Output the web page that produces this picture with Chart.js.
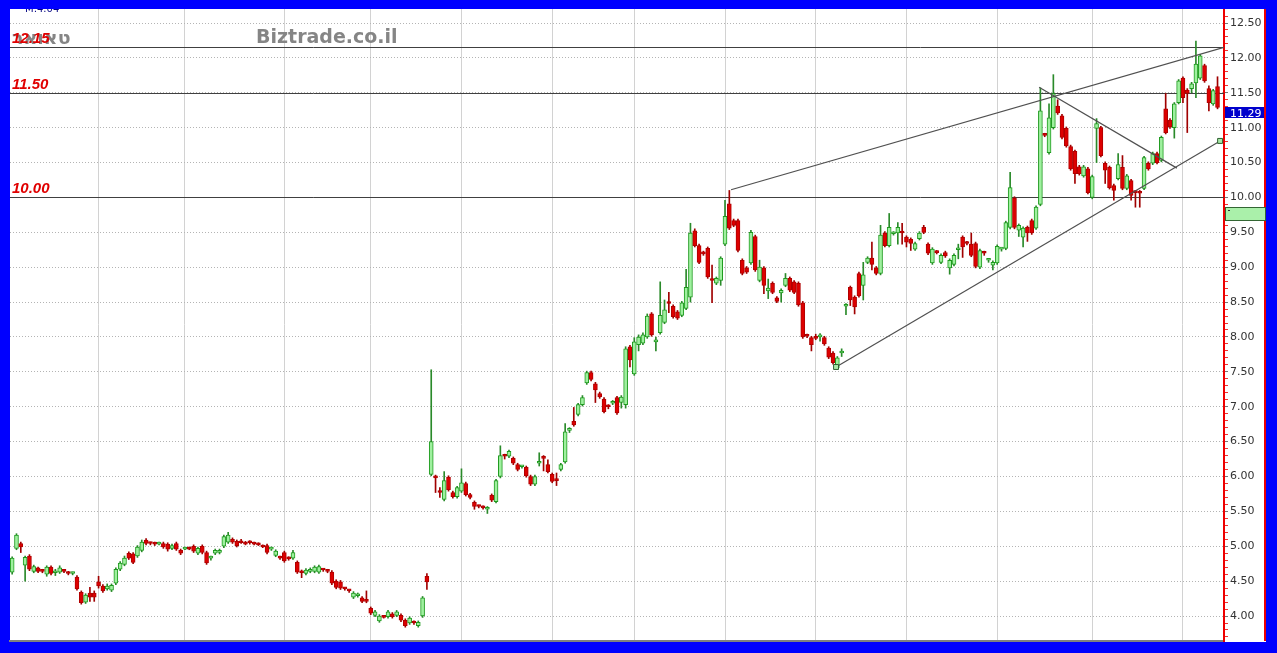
<!DOCTYPE html>
<html><head><meta charset="utf-8">
<script src="https://cdn.jsdelivr.net/npm/chart.js@4.4.1/dist/chart.umd.min.js"></script>
<style>html,body{margin:0;padding:0;background:#0000ff;overflow:hidden}canvas{display:block}</style>
</head><body>
<canvas id="c" width="1277" height="653"></canvas>
<script>
// ---- data (daily candles, oldest -> newest) ----
const openP=[4.63,4.97,5.04,4.73,4.86,4.64,4.69,4.65,4.60,4.70,4.62,4.63,4.65,4.62,4.61,4.56,4.34,4.20,4.33,4.33,
4.49,4.43,4.39,4.37,4.47,4.67,4.74,4.90,4.89,4.86,4.94,5.09,5.05,5.04,5.03,5.04,5.03,4.97,5.04,4.94,
4.96,4.97,5.00,4.90,5.00,4.91,4.83,4.90,4.91,5.00,5.06,5.10,5.07,5.06,5.04,5.06,5.04,5.03,5.00,5.01,
4.96,4.87,4.84,4.91,4.83,4.83,4.77,4.63,4.61,4.64,4.64,4.63,4.67,4.65,4.63,4.50,4.49,4.40,4.37,4.27,
4.29,4.26,4.22,4.11,4.01,3.93,3.99,3.99,4.03,4.01,4.01,3.94,3.90,3.91,3.86,4.00,4.57,6.03,6.00,5.78,
5.67,5.99,5.77,5.71,5.79,5.90,5.74,5.63,5.58,5.56,5.53,5.73,5.64,6.00,6.30,6.29,6.26,6.17,6.14,6.13,
6.00,5.89,6.19,6.27,6.17,6.03,5.95,6.10,6.21,6.66,6.79,6.89,7.03,7.34,7.49,7.33,7.19,7.11,7.01,7.05,
7.13,7.06,7.03,7.86,7.47,7.89,7.91,8.00,8.33,7.93,8.06,8.21,8.50,8.44,8.36,8.31,8.41,8.57,9.52,9.31,
9.21,9.27,8.82,8.77,8.81,9.33,9.91,9.67,9.67,9.10,8.99,9.06,9.44,8.81,8.99,8.66,8.77,8.56,8.63,8.74,
8.84,8.79,8.77,8.49,8.02,7.99,7.99,8.00,7.99,7.84,7.77,7.56,7.77,8.44,8.71,8.57,8.91,8.74,9.07,9.13,
8.99,8.91,9.49,9.31,9.48,9.49,9.50,9.43,9.40,9.26,9.41,9.57,9.33,9.06,9.22,9.07,9.21,8.99,9.04,9.25,
9.43,9.35,9.33,9.34,9.00,9.21,9.10,9.03,9.06,9.26,9.27,9.57,9.99,9.53,9.43,9.57,9.67,9.56,9.90,10.90,
10.64,11.00,11.31,11.17,10.99,10.73,10.66,10.44,10.31,10.41,10.00,10.99,11.00,10.49,10.43,10.17,10.27,10.43,10.13,10.24,
10.08,10.08,10.13,10.49,10.49,10.63,10.53,11.27,11.11,11.00,11.36,11.71,11.54,11.56,11.64,11.71,11.89,11.56,11.34,11.59];
const highP=[4.85,5.18,5.06,4.86,4.88,4.73,4.70,4.67,4.72,4.72,4.67,4.72,4.67,4.64,4.63,4.58,4.36,4.32,4.41,4.36,
4.57,4.45,4.46,4.46,4.69,4.78,4.86,4.92,4.91,5.01,5.09,5.11,5.06,5.06,5.06,5.06,5.05,5.03,5.06,4.96,
4.99,4.99,5.02,4.99,5.02,4.93,4.86,4.96,4.96,5.16,5.20,5.12,5.09,5.10,5.07,5.08,5.06,5.05,5.02,5.03,
4.99,4.95,4.86,4.93,4.85,4.94,4.79,4.66,4.68,4.69,4.72,4.73,4.68,4.67,4.65,4.52,4.51,4.41,4.38,4.35,
4.33,4.28,4.36,4.13,4.08,4.02,4.01,4.08,4.05,4.08,4.03,3.96,3.99,3.93,3.93,4.28,4.61,7.53,6.02,5.84,
6.07,6.01,5.79,5.86,6.11,5.92,5.76,5.65,5.59,5.58,5.57,5.75,5.96,6.44,6.32,6.38,6.28,6.19,6.16,6.15,
6.02,6.02,6.34,6.30,6.24,6.05,6.05,6.19,6.76,6.70,6.99,7.05,7.16,7.51,7.51,7.35,7.21,7.13,7.03,7.09,
7.15,7.16,7.86,7.88,7.99,8.03,8.06,8.33,8.35,8.00,8.79,8.53,8.64,8.46,8.38,8.51,8.97,9.63,9.55,9.33,
9.23,9.29,9.03,8.86,9.15,9.96,10.10,9.69,9.69,9.12,9.01,9.53,9.46,9.10,9.01,8.83,8.79,8.58,8.69,8.91,
8.86,8.81,8.79,8.51,8.04,8.01,8.04,8.05,8.01,7.86,7.79,7.72,7.83,8.48,8.73,8.59,8.93,9.07,9.15,9.36,
9.01,9.60,9.51,9.77,9.51,9.64,9.63,9.45,9.42,9.36,9.51,9.60,9.35,9.28,9.24,9.19,9.23,9.12,9.19,9.33,
9.45,9.37,9.49,9.36,9.26,9.23,9.12,9.09,9.32,9.28,9.66,10.36,10.01,9.62,9.58,9.59,9.69,9.88,11.57,10.92,
11.34,11.76,11.40,11.19,11.01,10.75,10.68,10.46,10.46,10.43,10.32,11.13,11.02,10.51,10.45,10.19,10.63,10.60,10.33,10.26,
10.10,10.10,10.59,10.51,10.65,10.65,10.88,11.49,11.13,11.36,11.69,11.73,11.56,11.65,12.24,12.05,11.91,11.60,11.55,11.73];
const lowP=[4.60,4.95,4.91,4.50,4.65,4.62,4.62,4.62,4.57,4.59,4.58,4.61,4.62,4.59,4.59,4.37,4.17,4.18,4.21,4.21,
4.40,4.34,4.37,4.35,4.45,4.65,4.72,4.81,4.75,4.84,4.92,5.02,5.02,5.01,5.02,4.97,4.93,4.95,4.94,4.88,
4.95,4.95,4.91,4.88,4.89,4.74,4.80,4.88,4.89,4.98,5.04,5.04,4.99,5.04,5.02,5.03,5.02,5.01,4.98,4.89,
4.94,4.85,4.81,4.77,4.80,4.81,4.61,4.55,4.59,4.62,4.62,4.61,4.64,4.62,4.45,4.39,4.38,4.37,4.34,4.25,
4.27,4.19,4.19,4.02,3.99,3.91,3.97,3.97,3.97,3.99,3.92,3.84,3.88,3.88,3.84,3.98,4.38,6.01,5.77,5.70,
5.65,5.79,5.69,5.69,5.77,5.72,5.68,5.53,5.55,5.53,5.47,5.64,5.62,5.98,6.25,6.27,6.17,6.08,6.12,5.99,
5.87,5.87,6.15,6.08,6.05,5.91,5.87,6.08,6.19,6.63,6.72,6.87,7.01,7.32,7.37,7.06,7.12,6.91,6.97,7.03,
6.89,6.98,6.98,7.57,7.45,7.80,7.89,7.98,8.01,7.80,8.04,8.19,8.35,8.27,8.25,8.29,8.39,8.50,9.29,9.05,
9.17,8.84,8.49,8.75,8.74,9.31,9.54,9.58,9.22,8.89,8.91,9.04,8.94,8.79,8.62,8.55,8.62,8.49,8.50,8.72,
8.65,8.62,8.44,7.98,7.99,7.80,7.96,7.94,7.88,7.69,7.61,7.54,7.72,8.32,8.45,8.33,8.57,8.53,9.05,8.96,
8.89,8.89,9.29,9.29,9.46,9.33,9.33,9.29,9.24,9.24,9.39,9.48,9.18,9.04,9.19,9.05,9.14,8.90,9.02,9.12,
9.14,9.32,9.15,8.99,8.98,9.17,9.07,8.96,9.04,9.23,9.25,9.55,9.55,9.44,9.29,9.37,9.47,9.54,9.88,10.87,
10.62,10.98,11.19,10.84,10.72,10.39,10.20,10.32,10.29,10.05,9.98,10.50,10.58,10.20,10.12,9.96,10.25,10.11,10.11,9.96,
9.86,9.86,10.11,10.39,10.47,10.48,10.51,10.91,10.99,10.85,11.34,11.36,10.93,11.50,11.43,11.69,11.65,11.24,11.32,11.27];
const closeP=[4.83,5.16,4.99,4.84,4.67,4.71,4.64,4.64,4.70,4.61,4.63,4.69,4.64,4.61,4.62,4.39,4.19,4.30,4.27,4.27,
4.43,4.36,4.43,4.44,4.67,4.76,4.83,4.83,4.77,4.99,5.06,5.04,5.04,5.03,5.04,4.99,4.96,5.01,4.96,4.90,
4.97,4.96,4.93,4.97,4.91,4.76,4.84,4.94,4.94,5.14,5.16,5.06,5.01,5.05,5.03,5.05,5.03,5.02,4.99,4.91,
4.97,4.93,4.83,4.79,4.82,4.91,4.63,4.62,4.66,4.67,4.70,4.71,4.66,4.64,4.47,4.41,4.40,4.39,4.36,4.33,
4.31,4.21,4.21,4.04,4.06,4.00,3.98,4.06,3.99,4.06,3.94,3.86,3.97,3.90,3.91,4.26,4.49,6.50,5.98,5.77,
5.94,5.81,5.71,5.84,5.91,5.74,5.70,5.57,5.57,5.55,5.54,5.66,5.94,6.30,6.29,6.36,6.19,6.10,6.15,6.01,
5.89,6.00,6.20,6.26,6.07,5.93,5.94,6.17,6.64,6.68,6.74,7.03,7.13,7.49,7.39,7.24,7.14,6.93,7.00,7.06,
6.91,7.14,7.83,7.67,7.93,8.00,8.03,8.30,8.03,7.94,8.31,8.39,8.48,8.29,8.27,8.49,8.71,9.49,9.31,9.07,
9.19,8.86,8.81,8.84,9.13,9.73,9.56,9.60,9.24,8.91,8.93,9.50,8.96,9.00,8.74,8.70,8.64,8.51,8.67,8.84,
8.67,8.64,8.46,8.00,8.01,7.89,7.98,8.03,7.90,7.71,7.63,7.70,7.79,8.46,8.53,8.43,8.59,8.89,9.13,9.04,
8.91,9.46,9.31,9.57,9.49,9.57,9.49,9.36,9.34,9.34,9.49,9.50,9.20,9.26,9.21,9.17,9.16,9.10,9.17,9.26,
9.29,9.34,9.17,9.01,9.24,9.20,9.11,9.07,9.30,9.27,9.64,10.14,9.57,9.60,9.56,9.49,9.49,9.86,11.24,10.89,
11.14,11.49,11.21,10.86,10.74,10.41,10.34,10.34,10.44,10.07,10.30,11.06,10.60,10.39,10.14,10.10,10.47,10.13,10.31,10.03,
10.07,10.06,10.57,10.41,10.63,10.50,10.86,10.93,11.01,11.34,11.67,11.43,11.49,11.63,11.91,12.03,11.67,11.36,11.53,11.29];

const monthStarts=[20,40,63,83,104,125,144,165,186,207,228,250,271]; // candle index of vertical grid lines
const levelValues=[12.15,11.50,10.00];
const levelLabels=['12.15','11.50','10.00'];
const trendUpper=[{x:166.4,y:10.11},{x:280.5,y:12.15}];
const trendLower=[{x:190.7,y:7.57},{x:279.6,y:10.81}];
const trendFall=[{x:237.7,y:11.58},{x:269.6,y:10.42}];
const anchorPoints=[{x:190.7,y:7.57},{x:279.6,y:10.81}];
const lastPrice=11.29;
const markerLevel=9.86;
const stockName='טאואר';
const siteName='Biztrade.co.il';
const infoText='M:4.04';

// ---- derived ----
const idx=openP.map((_,i)=>i);
const up=idx.map(i=>closeP[i]>=openP[i]);
const wickData=idx.map(i=>({x:i,y:[lowP[i],highP[i]]}));
const bodyData=idx.map(i=>({x:i,y:[openP[i],closeP[i]]}));

const deco={
  id:'deco',
  beforeDraw(chart){
    const c=chart.ctx;c.save();
    c.fillStyle='#0000ff';c.fillRect(0,0,chart.width,chart.height);
    c.fillStyle='#ffffff';c.fillRect(10,9,1256,633);
    c.restore();
  },
  beforeDatasetsDraw(chart){
    const c=chart.ctx,a=chart.chartArea,y=chart.scales.y;
    c.save();
    c.fillStyle='#858585';
    c.font='bold 19px "DejaVu Sans"';c.textBaseline='alphabetic';c.textAlign='left';
    c.fillText(siteName,256,43);
    c.font='bold 19px "DejaVu Sans", "Noto Sans", sans-serif';
    c.fillText(stockName,12,44);
    levelValues.forEach((v,k)=>{
      const py=Math.round(y.getPixelForValue(v))+0.5;
      c.strokeStyle='#404040';c.lineWidth=1;
      c.beginPath();c.moveTo(a.left,py);c.lineTo(a.right,py);c.stroke();
      c.fillStyle='#e00000';c.font='italic bold 15px "Liberation Sans"';
      c.fillText(levelLabels[k],12,py-5);
    });
    c.restore();
  },
  afterDraw(chart){
    const c=chart.ctx,a=chart.chartArea,y=chart.scales.y;
    c.save();
    c.strokeStyle='#ee0000';c.lineWidth=2;
    c.beginPath();c.moveTo(1265,9);c.lineTo(1265,641);c.stroke();
    // last price box
    const pt=Math.round(y.getPixelForValue(lastPrice));
    c.fillStyle='#0000cc';c.fillRect(a.right+1,pt,39,11);
    c.fillStyle='#ffffff';c.font='11px "DejaVu Sans"';c.textBaseline='alphabetic';
    c.fillText(lastPrice.toFixed(2),a.right+6,pt+10);
    // marker box
    const mt=Math.round(y.getPixelForValue(markerLevel));
    c.fillStyle='#aaf0aa';c.fillRect(a.right+1,mt,41,14);
    c.strokeStyle='#336633';c.lineWidth=1;c.strokeRect(a.right+1.5,mt+0.5,40,13);
    c.fillStyle='#333';c.fillRect(a.right+4,mt+3,2,1);
    // info text and top border
    c.fillStyle='#000080';c.font='10px "DejaVu Sans"';
    c.fillText(infoText,25,12);
    c.fillStyle='#0000ff';c.fillRect(0,0,chart.width,9);
    c.restore();
  }
};

new Chart(document.getElementById('c'),{
  type:'bar',
  data:{datasets:[
    {type:'line',data:trendUpper,borderColor:'#505050',borderWidth:1.2,pointRadius:0,order:0},
    {type:'line',data:trendLower,borderColor:'#505050',borderWidth:1.2,pointRadius:0,order:0},
    {type:'line',data:trendFall,borderColor:'#505050',borderWidth:1.2,pointRadius:0,order:0},
    {type:'line',data:anchorPoints,showLine:false,pointStyle:'rect',pointRadius:3.5,backgroundColor:'#a8e8a8',borderColor:'#2f5f2f',borderWidth:1,order:-1},
    {data:bodyData,grouped:false,barThickness:4,minBarLength:2,borderWidth:1,borderSkipped:false,
     backgroundColor:up.map(u=>u?'#9ff09f':'#dd0000'),borderColor:up.map(u=>u?'#1e9a1e':'#b00000'),order:1},
    {data:wickData,grouped:false,barThickness:1,borderWidth:0,
     backgroundColor:up.map(u=>u?'#2a8a2a':'#a00000'),order:2}
  ]},
  options:{
    responsive:false,animation:false,devicePixelRatio:1,
    layout:{padding:{left:10,top:9,right:11,bottom:12}},
    plugins:{legend:{display:false},tooltip:{enabled:false}},
    scales:{
      x:{type:'linear',min:-0.5,max:280.5,offset:false,
        afterBuildTicks:s=>{s.ticks=monthStarts.map(v=>({value:v}));},
        afterFit:s=>{s.height=0;},
        ticks:{display:false},
        grid:{color:'#d2d2d2',lineWidth:1,drawTicks:false,offset:false},
        border:{display:true,color:'#808080',width:2}},
      y:{type:'linear',position:'right',min:3.642,max:12.701,
        afterBuildTicks:s=>{const t=[];for(let k=37;k<=126;k++)t.push({value:k/10});s.ticks=t;},
        afterFit:s=>{s.width=42;},
        ticks:{autoSkip:false,padding:2,color:'#333333',font:{family:'DejaVu Sans',size:11},
          callback:v=>(Math.round(v*10)%5===0?Number(v).toFixed(2):'')},
        grid:{drawOnChartArea:true,tickLength:4,
          color:ctx=>(Math.round(ctx.tick.value*10)%5===0?'#b4b4b4':'rgba(0,0,0,0)'),
          tickColor:ctx=>(Math.round(ctx.tick.value*10)%5===0?'#777777':'#ee3333')},
        border:{display:true,color:'#ee0000',width:2,dash:[1,2]}}
    }
  },
  plugins:[deco]
});
</script>
</body></html>
